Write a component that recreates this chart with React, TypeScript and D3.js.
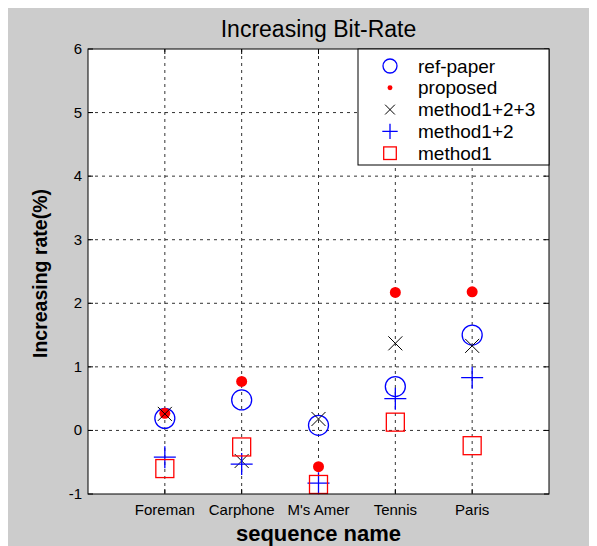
import React from "react";
import * as d3 from "d3";

const sequences = ["Foreman", "Carphone", "M's Amer", "Tennis", "Paris"];
const refPaper = [0.19, 0.48, 0.08, 0.69, 1.5];
const proposed = [0.27, 0.77, -0.57, 2.17, 2.18];
const method123 = [0.26, -0.48, 0.18, 1.37, 1.33];
const method12 = [-0.42, -0.53, -0.83, 0.5, 0.83];
const method1 = [-0.6, -0.26, -0.85, 0.13, -0.24];
const yTicks = [-1, 0, 1, 2, 3, 4, 5, 6];
const legendNames = ["ref-paper", "proposed", "method1+2+3", "method1+2", "method1"];

const W = 589;
const H = 538;
const plot = { left: 80, right: 541, top: 41, bottom: 486 };
const font = "'Liberation Sans', Arial, sans-serif";

// draws one marker shape at (x, y)
function Marker({ kind, x, y, s }: { kind: string; x: number; y: number; s: number }) {
  if (kind === "circle")
    return <circle cx={x} cy={y} r={10 * s} fill="none" stroke="#0000ff" strokeWidth={1.3} />;
  if (kind === "dot") return <circle cx={x} cy={y} r={5.5 * s} fill="#ff0000" />;
  if (kind === "x") {
    const a = 7 * s;
    return (
      <path d={`M${x - a},${y - a}L${x + a},${y + a}M${x - a},${y + a}L${x + a},${y - a}`}
        stroke="#000" strokeWidth={1} fill="none" />
    );
  }
  if (kind === "plus") {
    const a = 11 * s;
    return (
      <path d={`M${x - a},${y}L${x + a},${y}M${x},${y - a}L${x},${y + a}`}
        stroke="#0000ff" strokeWidth={1.3} fill="none" />
    );
  }
  const a = 9 * s;
  return <rect x={x - a} y={y - a} width={2 * a} height={2 * a} fill="none" stroke="#ff0000" strokeWidth={1.3} />;
}

export default function App() {
  const x = d3.scaleLinear().domain([0, 6]).range([plot.left, plot.right]);
  const y = d3.scaleLinear().domain([-1, 6]).range([plot.bottom, plot.top]);

  const series = [
    { kind: "circle", values: refPaper },
    { kind: "dot", values: proposed },
    { kind: "x", values: method123 },
    { kind: "plus", values: method12 },
    { kind: "square", values: method1 },
  ];

  const xs = sequences.map((_, i) => i + 1);
  const tick = 5;

  return (
    <svg width={W} height={H} style={{ display: "block" }} fontFamily={font}>
      <rect x={0} y={0} width={582} height={H} fill="#cccccc" />
      <rect x={plot.left} y={plot.top} width={plot.right - plot.left} height={plot.bottom - plot.top} fill="#fff" />

      {/* grid */}
      {xs.map((v) => (
        <line key={"gx" + v} x1={x(v)} x2={x(v)} y1={plot.top} y2={plot.bottom}
          stroke="#000" strokeDasharray="3,4" strokeWidth={1} opacity={0.8} />
      ))}
      {yTicks.filter((v) => v > -1 && v < 6).map((v) => (
        <line key={"gy" + v} x1={plot.left} x2={plot.right} y1={y(v)} y2={y(v)}
          stroke="#000" strokeDasharray="3,4" strokeWidth={1} opacity={0.8} />
      ))}

      {/* ticks */}
      {xs.map((v) => (
        <g key={"tx" + v} stroke="#000">
          <line x1={x(v)} x2={x(v)} y1={plot.bottom} y2={plot.bottom - tick} />
          <line x1={x(v)} x2={x(v)} y1={plot.top} y2={plot.top + tick} />
        </g>
      ))}
      {yTicks.map((v) => (
        <g key={"ty" + v} stroke="#000">
          <line x1={plot.left} x2={plot.left + tick} y1={y(v)} y2={y(v)} />
          <line x1={plot.right} x2={plot.right - tick} y1={y(v)} y2={y(v)} />
        </g>
      ))}

      {/* data */}
      {series.map((s) =>
        s.values.map((v, i) => <Marker key={s.kind + i} kind={s.kind} x={x(i + 1)} y={y(v)} s={1} />)
      )}

      <rect x={plot.left} y={plot.top} width={plot.right - plot.left} height={plot.bottom - plot.top}
        fill="none" stroke="#000" strokeWidth={1} />

      {/* tick labels */}
      {sequences.map((name, i) => (
        <text key={name} x={x(i + 1)} y={507} textAnchor="middle" fontSize={15}>{name}</text>
      ))}
      {yTicks.map((v) => (
        <text key={"yl" + v} x={plot.left - 6} y={y(v) + 5} textAnchor="end" fontSize={15}>{v}</text>
      ))}

      {/* titles */}
      <text x={(plot.left + plot.right) / 2} y={29} textAnchor="middle" fontSize={23}>Increasing Bit-Rate</text>
      <text x={(plot.left + plot.right) / 2} y={533} textAnchor="middle" fontSize={22} fontWeight="bold">sequence name</text>
      <text transform={`translate(39,${(plot.top + plot.bottom) / 2 + 2}) rotate(-90)`} textAnchor="middle"
        fontSize={19.5} fontWeight="bold">Increasing rate(%)</text>

      {/* legend */}
      <g>
        <rect x={350} y={plot.top} width={plot.right - 350} height={116} fill="#fff" stroke="#000" />
        {legendNames.map((name, i) => (
          <g key={name}>
            <Marker kind={series[i].kind} x={382} y={plot.top + 17 + i * 21.8}
              s={series[i].kind === "dot" ? 0.45 : 0.7} />
            <text x={410} y={plot.top + 17 + i * 21.8 + 6.5} fontSize={19}>{name}</text>
          </g>
        ))}
      </g>
    </svg>
  );
}
